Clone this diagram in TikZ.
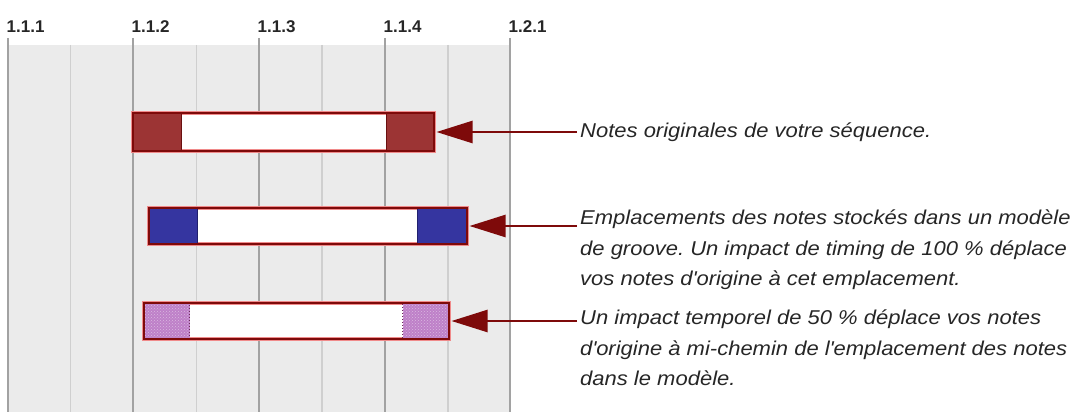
\documentclass[tikz,border=0pt]{standalone}
\usepackage{fontspec}
\setmainfont{Liberation Sans}
\newfontfamily\notefont[FakeStretch=1.1]{Liberation Sans}
\usetikzlibrary{arrows.meta,patterns}
\frenchspacing

\definecolor{panelgray}{HTML}{EBEBEB}
\definecolor{majorgray}{HTML}{A2A2A2}
\definecolor{minorgray}{HTML}{CFCFCF}
\definecolor{framered}{HTML}{7E0A0A}
\definecolor{framepink}{HTML}{F08A8A}
\definecolor{origfill}{HTML}{9C3434}
\definecolor{origdraw}{HTML}{6A1010}
\definecolor{groovefill}{HTML}{3535A0}
\definecolor{groovedraw}{HTML}{20206E}
\definecolor{halffill}{HTML}{BE80C8}
\definecolor{halfdraw}{HTML}{6E2A5A}
\definecolor{notegray}{HTML}{262626}

\begin{document}
\begin{tikzpicture}[x=1pt,y=-1pt,
    beat/.style={anchor=base west,inner sep=0pt,font=\fontsize{17}{17}\selectfont\bfseries,text=black!85},
    majorline/.style={draw=majorgray,line width=1.6pt},
    minorline/.style={draw=minorgray,line width=1.4pt},
    barbox/.style={draw=framepink,line width=3.6pt,fill=white,inner sep=0pt,outer sep=0pt},
    barframe/.style={draw=framered,line width=2pt},
    origblock/.style={fill=origfill,draw=origdraw,line width=1.4pt,inner sep=0pt,minimum height=38pt},
    grooveblock/.style={fill=groovefill,draw=groovedraw,line width=1.4pt,inner sep=0pt,minimum height=36pt},
    halfblock/.style={fill=halffill,draw=halfdraw,dotted,line width=1pt,inner sep=0pt,minimum height=36pt,
      postaction={pattern=crosshatch dots,pattern color=white!45!halffill}},
    note/.style={align=left,inner sep=0pt,text=notegray,font=\notefont\fontsize{20}{30.5}\selectfont\itshape},
    pointer/.style={draw=framered,line width=2.4pt,-{Triangle[length=36pt,width=22pt]},shorten >=2.5pt,shorten <=3pt}]
  \useasboundingbox (0,0) rectangle (1079,412);

  % grid
  \fill[panelgray] (8,45) rectangle (510,412);
  \foreach \x in {70.5,196.5,322,448}
    \draw[minorline] (\x,45) -- (\x,412);
  \foreach \x/\t [count=\i] in {8/1.1.1,133/1.1.2,259/1.1.3,385/1.1.4,510/1.2.1} {
    \draw[majorline] (\x,38) -- (\x,412);
    \node[beat] (beat\i) at (\x-1.5,33) {\t};
  }

  % original notes
  \node[barbox,minimum width=301pt,minimum height=38pt] (orig) at (283.5,132) {};
  \node[origblock,anchor=west,minimum width=48pt] (origL) at (orig.west) {};
  \node[origblock,anchor=east,minimum width=47pt] (origR) at (orig.east) {};
  \draw[barframe] (orig.north west) rectangle (orig.south east);

  % groove template
  \node[barbox,minimum width=318pt,minimum height=36pt] (groove) at (308,226) {};
  \node[grooveblock,anchor=west,minimum width=48pt] (grooveL) at (groove.west) {};
  \node[grooveblock,anchor=east,minimum width=49pt] (grooveR) at (groove.east) {};
  \draw[barframe] (groove.north west) rectangle (groove.south east);

  % 50 % timing impact
  \node[barbox,minimum width=305pt,minimum height=36pt] (half) at (296.5,321) {};
  \node[halfblock,anchor=west,minimum width=45pt] (halfL) at (half.west) {};
  \node[halfblock,anchor=east,minimum width=46pt] (halfR) at (half.east) {};
  \draw[barframe] (half.north west) rectangle (half.south east);

  % captions
  \node[note,anchor=base west] (torig) at (580,137) {Notes originales de votre séquence.};
  \node[note,anchor=north west] (tgroove) at (580,210)
    {Emplacements des notes stockés dans un modèle\\de groove. Un impact de timing de 100~\% déplace\\vos notes d\textquotesingle origine à cet emplacement.};
  \node[note,anchor=north west] (thalf) at (580,310)
    {Un impact temporel de 50~\% déplace vos notes\\d\textquotesingle origine à mi-chemin de l\textquotesingle emplacement des notes\\dans le modèle.};

  \draw[pointer] (orig.east -| torig.west) -- (orig.east);
  \draw[pointer] (groove.east -| tgroove.west) -- (groove.east);
  \draw[pointer] (half.east -| thalf.west) -- (half.east);
\end{tikzpicture}
\end{document}
